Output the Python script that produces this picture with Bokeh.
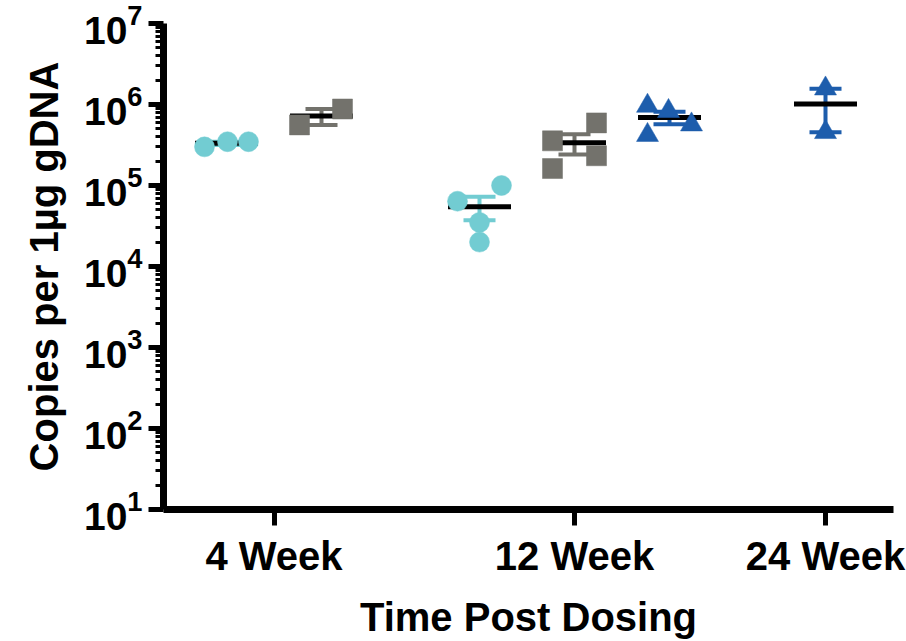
import numpy as np
from bokeh.plotting import figure
from bokeh.models import Range1d, FixedTicker, LogTickFormatter
from bokeh.embed import file_html
from bokeh.resources import INLINE

# ---------------- data ----------------
time_labels = ["4 Week", "12 Week", "24 Week"]

cyan_4w = [3.0e5, 3.47e5, 3.47e5]
grey_4w = [5.6e5, 8.8e5]
cyan_12w = [6.4e4, 1.0e5, 3.5e4, 2.0e4]
grey_12w = [3.56e5, 5.93e5, 2.33e5, 1.62e5]
blue_12w = [9.6e5, 8.28e5, 5.65e5, 4.19e5]
blue_24w = [1.57e6, 4.55e5]

# ---------------- layout / style ----------------
group_x = [0.63, 1.58, 3.16, 4.11, 5.06, 6.62]
tick_x = [1.105, 4.11, 6.62]
jitter = [
    [-0.22, 0.01, 0.22],
    [-0.22, 0.21],
    [-0.22, 0.22, 0.0, 0.0],
    [-0.22, 0.22, 0.22, -0.22],
    [-0.22, -0.01, 0.22, -0.22],
    [0.0, 0.0],
]
CYAN, GREY, BLUE = "#72CCD2", "#73726C", "#1D5DAC"
series = [
    (cyan_4w, CYAN, "circle", 20),
    (grey_4w, GREY, "square", 20),
    (cyan_12w, CYAN, "circle", 20),
    (grey_12w, GREY, "square", 20),
    (blue_12w, BLUE, "triangle", 22),
    (blue_24w, BLUE, "triangle", 22),
]

FONT = "Liberation Sans"

p = figure(
    width=906, height=641,
    y_axis_type="log",
    x_range=Range1d(0, 7.3), y_range=Range1d(10, 1e7),
    output_backend="svg", toolbar_location=None,
    min_border_left=163, min_border_right=13,
    min_border_top=23, min_border_bottom=130,
)
p.outline_line_color = None
p.xgrid.visible = False
p.ygrid.visible = False
p.background_fill_color = "white"
p.border_fill_color = "white"

# y axis
p.yaxis.ticker = FixedTicker(
    ticks=[10.0 ** k for k in range(1, 8)],
    minor_ticks=[m * 10.0 ** k for k in range(1, 7) for m in range(2, 10)],
)
p.yaxis.formatter = LogTickFormatter()
p.yaxis.axis_line_width = 7
p.yaxis.axis_line_color = "black"
p.yaxis.major_tick_line_width = 5
p.yaxis.major_tick_out = 15
p.yaxis.major_tick_in = 0
p.yaxis.minor_tick_line_width = 3
p.yaxis.minor_tick_out = 8
p.yaxis.minor_tick_in = 0
p.yaxis.major_label_text_font = FONT
p.yaxis.major_label_text_font_style = "bold"
p.yaxis.major_label_text_font_size = "39px"
p.yaxis.major_label_text_color = "black"
p.yaxis.major_label_standoff = 6
p.yaxis.axis_label = "Copies per 1\u00b5g gDNA"
p.yaxis.axis_label_text_font = FONT
p.yaxis.axis_label_text_font_style = "bold"
p.yaxis.axis_label_text_font_size = "40px"
p.yaxis.axis_label_text_color = "black"
p.yaxis.axis_label_standoff = 15

# x axis
p.xaxis.ticker = FixedTicker(ticks=tick_x)
p.xaxis.major_label_overrides = {t: lab for t, lab in zip(tick_x, time_labels)}
p.xaxis.axis_line_width = 7
p.xaxis.axis_line_color = "black"
p.xaxis.major_tick_line_width = 5
p.xaxis.major_tick_out = 16
p.xaxis.major_tick_in = 0
p.xaxis.minor_tick_line_color = None
p.xaxis.major_label_text_font = FONT
p.xaxis.major_label_text_font_style = "bold"
p.xaxis.major_label_text_font_size = "40px"
p.xaxis.major_label_text_color = "black"
p.xaxis.major_label_standoff = 8
p.xaxis.axis_label = "Time Post Dosing"
p.xaxis.axis_label_text_font = FONT
p.xaxis.axis_label_text_font_style = "bold"
p.xaxis.axis_label_text_font_size = "40px"
p.xaxis.axis_label_text_color = "black"
p.xaxis.axis_label_standoff = 14

# ---------------- marks ----------------
CAP = 0.16
MEAN_HALF = 0.315
for gx, offs, (vals, color, marker, size) in zip(group_x, jitter, series):
    v = np.array(vals, dtype=float)
    m = v.mean()
    s = v.std(ddof=1) / np.sqrt(len(v))
    # error bar (mean +/- SEM)
    p.segment(x0=[gx], y0=[m - s], x1=[gx], y1=[m + s], line_color=color, line_width=4)
    p.segment(x0=[gx - CAP, gx - CAP], y0=[m + s, m - s], x1=[gx + CAP, gx + CAP], y1=[m + s, m - s],
              line_color=color, line_width=4)
    # mean line
    p.segment(x0=[gx - MEAN_HALF], y0=[m], x1=[gx + MEAN_HALF], y1=[m], line_color="black", line_width=5)
    # points
    p.scatter(x=[gx + o for o in offs], y=list(v), marker=marker, size=size,
              fill_color=color, line_color=color, line_width=0.5)

open("out.html", "w").write(file_html(p, INLINE))
